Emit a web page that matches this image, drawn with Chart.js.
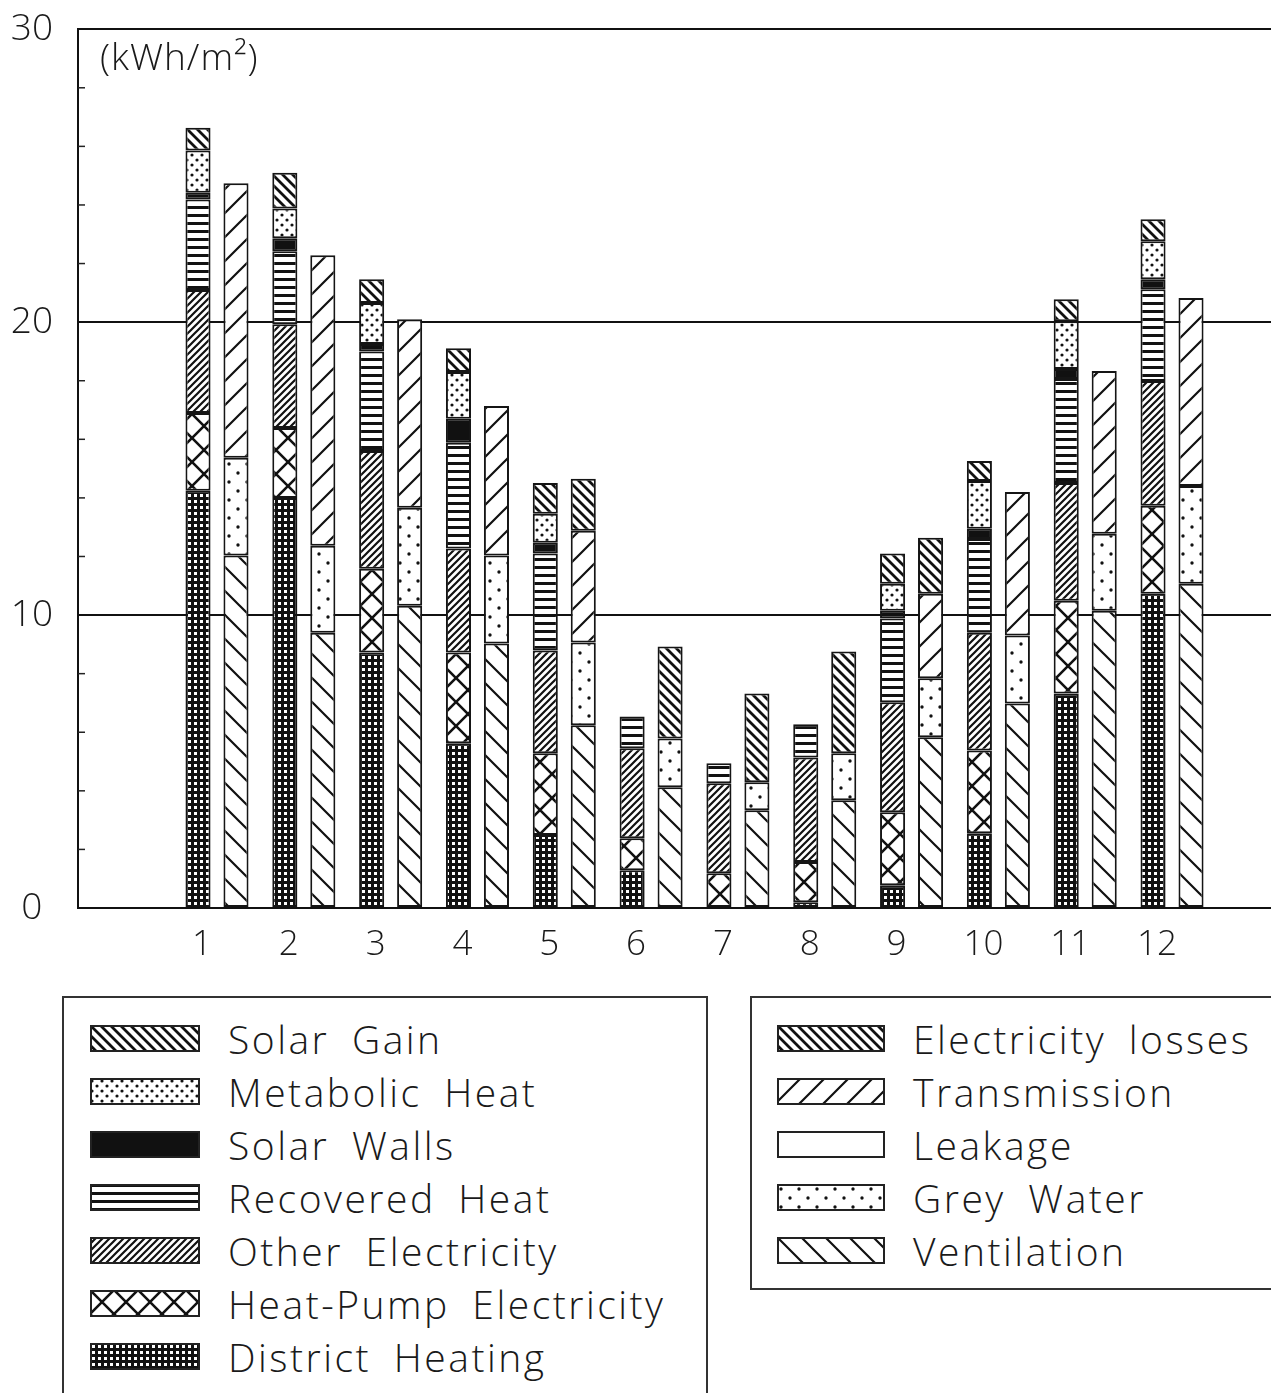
<!DOCTYPE html>
<html>
<head>
<meta charset="utf-8">
<script src="https://cdn.jsdelivr.net/npm/chart.js@4.4.1/dist/chart.umd.min.js"></script>
<style>
  body { margin: 0; background: #fff; width: 1271px; height: 1393px; overflow: hidden; position: relative;
         font-family: 'Open Sans', 'DejaVu Sans', sans-serif; font-weight: 300; color: #1a1a1a; }
  #wrap { position: absolute; left: 0; top: -18px; width: 1287px; height: 998px; }
  .unit { position: absolute; left: 100px; top: 30px; font-size: 37px; letter-spacing: 1px; }
  .box { position: absolute; top: 996px; border: 2px solid #333; box-sizing: border-box; }
  #legGains { left: 62px; width: 646px; height: 420px; }
  #legLosses { left: 750px; width: 560px; height: 294px; }
  .item { position: absolute; height: 40px; display: flex; align-items: center; white-space: nowrap;
          font-size: 39px; letter-spacing: 2.5px; word-spacing: 10px; }
</style>
</head>
<body>
<div id="wrap"><canvas id="grafico" width="1287" height="998"></canvas></div>
<div class="unit">(kWh/m²)</div>
<div class="box" id="legGains"></div>
<div class="box" id="legLosses"></div>
<script>
// Meses
const meses = [1, 2, 3, 4, 5, 6, 7, 8, 9, 10, 11, 12];
const yTicks = [0, 10, 20, 30];

// Ganhos (kWh/m2) - barra da esquerda, de baixo para cima
const districtHeating = [14.24, 14.0, 8.72, 5.62, 2.49, 1.29, 0, 0.2, 0.78, 2.55, 7.32, 10.73];
const heatPumpElec    = [2.66, 2.39, 2.86, 3.1, 2.79, 1.09, 1.19, 1.37, 2.49, 2.83, 3.17, 3.0];
const otherElec       = [4.2, 3.54, 4.02, 3.55, 3.51, 3.07, 3.07, 3.57, 3.75, 4.02, 4.02, 4.26];
const recoveredHeat   = [3.09, 2.49, 3.4, 3.61, 3.31, 1.09, 0.68, 1.13, 2.86, 3.2, 3.55, 3.13];
const solarWalls      = [0.23, 0.44, 0.25, 0.82, 0.37, 0, 0, 0, 0.27, 0.35, 0.34, 0.34];
const metabolicHeat   = [1.44, 1.02, 1.4, 1.6, 0.99, 0, 0, 0, 0.92, 1.63, 1.63, 1.3];
const solarGain       = [0.78, 1.22, 0.81, 0.81, 1.05, 0, 0, 0, 1.03, 0.68, 0.75, 0.75];

// Perdas (kWh/m2) - barra da direita
const ventilation     = [12.03, 9.4, 10.32, 9.03, 6.24, 4.12, 3.34, 3.68, 5.83, 6.98, 10.15, 11.07];
const greyWater       = [3.34, 2.97, 3.34, 3.0, 2.82, 1.67, 0.95, 1.6, 2.01, 2.32, 2.63, 3.34];
const leakage         = [0, 0, 0, 0, 0, 0, 0, 0, 0, 0, 0, 0];
const transmission    = [9.37, 9.91, 6.44, 5.11, 3.82, 0, 0, 0, 2.89, 4.9, 5.55, 6.41];
const elecLosses      = [0, 0, 0, 0, 1.77, 3.14, 3.03, 3.48, 1.91, 0, 0, 0];

// Padrões de preenchimento
function tile(w, h, draw) {
    const c = document.createElement('canvas');
    c.width = w; c.height = h;
    const g = c.getContext('2d');
    g.fillStyle = '#fff'; g.fillRect(0, 0, w, h);
    g.strokeStyle = '#111'; g.fillStyle = '#111';
    draw(g, w, h);
    return c;
}
function diag(s, lw, back) {
    return tile(s, s, (g) => {
        g.lineWidth = lw;
        g.beginPath();
        if (back) {
            g.moveTo(0, 0); g.lineTo(s, s);
            g.moveTo(-s, 0); g.lineTo(s, 2 * s);
            g.moveTo(0, -s); g.lineTo(2 * s, s);
        } else {
            g.moveTo(0, s); g.lineTo(s, 0);
            g.moveTo(-s, s); g.lineTo(s, -s);
            g.moveTo(0, 2 * s); g.lineTo(2 * s, 0);
        }
        g.stroke();
    });
}
const tiles = {
    solarGain: diag(10, 2.8, true),
    metabolic: tile(10, 10, (g) => { g.beginPath(); g.arc(2, 3, 1.6, 0, 7); g.arc(7, 8, 1.6, 0, 7); g.fill(); }),
    solarWalls: tile(4, 4, (g) => g.fillRect(0, 0, 4, 4)),
    recovered: tile(8, 8, (g) => g.fillRect(0, 0, 8, 3)),
    otherElec: diag(7, 2.2, false),
    heatPump: tile(24, 24, (g) => {
        g.lineWidth = 2.6; g.beginPath();
        g.moveTo(0, 0); g.lineTo(24, 24); g.moveTo(0, 24); g.lineTo(24, 0); g.stroke();
    }),
    district: tile(6, 6, (g) => { g.fillRect(0, 0, 6, 6); g.fillStyle = '#fff'; g.fillRect(2, 2, 3, 3); }),
    elecLosses: diag(10, 2.8, true),
    transmission: diag(24, 2.2, false),
    leakage: tile(4, 4, () => {}),
    greyWater: tile(18, 18, (g) => { g.beginPath(); g.arc(4, 5, 1.7, 0, 7); g.arc(13, 14, 1.7, 0, 7); g.fill(); }),
    ventilation: diag(24, 2.2, true)
};

const ctx = document.getElementById('grafico').getContext('2d');
const pat = (k) => ctx.createPattern(tiles[k], 'repeat');
const pontos = (arr) => meses.map((m, i) => ({ x: m, y: arr[i] > 0 ? arr[i] : null }));

const ganhos = [
    ['District Heating', districtHeating, 'district'],
    ['Heat-Pump Electricity', heatPumpElec, 'heatPump'],
    ['Other Electricity', otherElec, 'otherElec'],
    ['Recovered Heat', recoveredHeat, 'recovered'],
    ['Solar Walls', solarWalls, 'solarWalls'],
    ['Metabolic Heat', metabolicHeat, 'metabolic'],
    ['Solar Gain', solarGain, 'solarGain']
];
const perdas = [
    ['Ventilation', ventilation, 'ventilation'],
    ['Grey Water', greyWater, 'greyWater'],
    ['Leakage', leakage, 'leakage'],
    ['Transmission', transmission, 'transmission'],
    ['Electricity losses', elecLosses, 'elecLosses']
];

const mkSet = (stack) => ([label, arr, key]) => ({
    label, stack,
    data: pontos(arr),
    backgroundColor: pat(key),
    borderColor: '#151515',
    borderWidth: 2,
    borderSkipped: false,
    categoryPercentage: 0.875,
    barPercentage: 0.66
});

// Marcas menores no eixo y (por dentro)
const minorTicks = {
    id: 'minorTicks',
    afterDraw(chart) {
        const y = chart.scales.y, c = chart.ctx, x0 = chart.chartArea.left;
        c.save();
        c.strokeStyle = '#222'; c.lineWidth = 1.5;
        y.ticks.forEach(t => {
            if (yTicks.includes(t.value)) return;
            const py = y.getPixelForValue(t.value);
            c.beginPath(); c.moveTo(x0, py); c.lineTo(x0 + 7, py); c.stroke();
        });
        c.restore();
    }
};

Chart.defaults.font.family = "'Open Sans', 'DejaVu Sans', sans-serif";
Chart.defaults.font.weight = '300';
Chart.defaults.color = '#1a1a1a';

const grafico = new Chart(ctx, {
    type: 'bar',
    data: {
        datasets: [...ganhos.map(mkSet('ganhos')), ...perdas.map(mkSet('perdas'))]
    },
    options: {
        responsive: false,
        animation: false,
        layout: { padding: { top: 10, right: 0, left: 0, bottom: 0 } },
        plugins: { legend: { display: false }, tooltip: { enabled: false } },
        scales: {
            x: {
                type: 'linear',
                stacked: true,
                offset: false,
                min: -0.601,
                max: 13.14,
                afterFit: (s) => { s.height = 72; },
                grid: { display: false, drawTicks: false },
                border: { display: true, color: '#111', width: 2 },
                ticks: {
                    stepSize: 1,
                    autoSkip: false,
                    padding: 16,
                    labelOffset: -15,
                    font: { size: 35 },
                    callback: (v) => (meses.includes(v) ? String(v) : '')
                }
            },
            y: {
                stacked: true,
                min: 0,
                max: 30,
                afterFit: (s) => { s.width = 78; },
                grid: {
                    drawTicks: false,
                    lineWidth: 2,
                    color: (c) => (yTicks.includes(c.tick.value) ? '#111' : 'rgba(0,0,0,0)')
                },
                border: { display: true, color: '#111', width: 2 },
                ticks: {
                    stepSize: 2,
                    autoSkip: false,
                    crossAlign: 'center',
                    padding: 25,
                    font: { size: 37 },
                    callback: (v) => (yTicks.includes(v) ? String(v) : '')
                }
            }
        }
    },
    plugins: [minorTicks]
});

// Legendas em caixas
function legenda(id, itens, swLeft, swW, txtGap) {
    const box = document.getElementById(id);
    itens.forEach(([label, , key], i) => {
        const row = document.createElement('div');
        row.className = 'item';
        row.style.left = swLeft + 'px';
        row.style.top = (20 + i * 53) + 'px';
        const sw = document.createElement('canvas');
        sw.width = swW; sw.height = 27;
        sw.style.marginRight = txtGap + 'px';
        const g = sw.getContext('2d');
        g.fillStyle = g.createPattern(tiles[key], 'repeat');
        g.fillRect(0, 0, swW, 27);
        g.strokeStyle = '#222'; g.lineWidth = 2;
        g.strokeRect(1, 1, swW - 2, 25);
        row.appendChild(sw);
        row.appendChild(document.createTextNode(label));
        box.appendChild(row);
    });
}
legenda('legGains', [...ganhos].reverse(), 26, 110, 28);
legenda('legLosses', [...perdas].reverse(), 25, 108, 28);
</script>
</body>
</html>
